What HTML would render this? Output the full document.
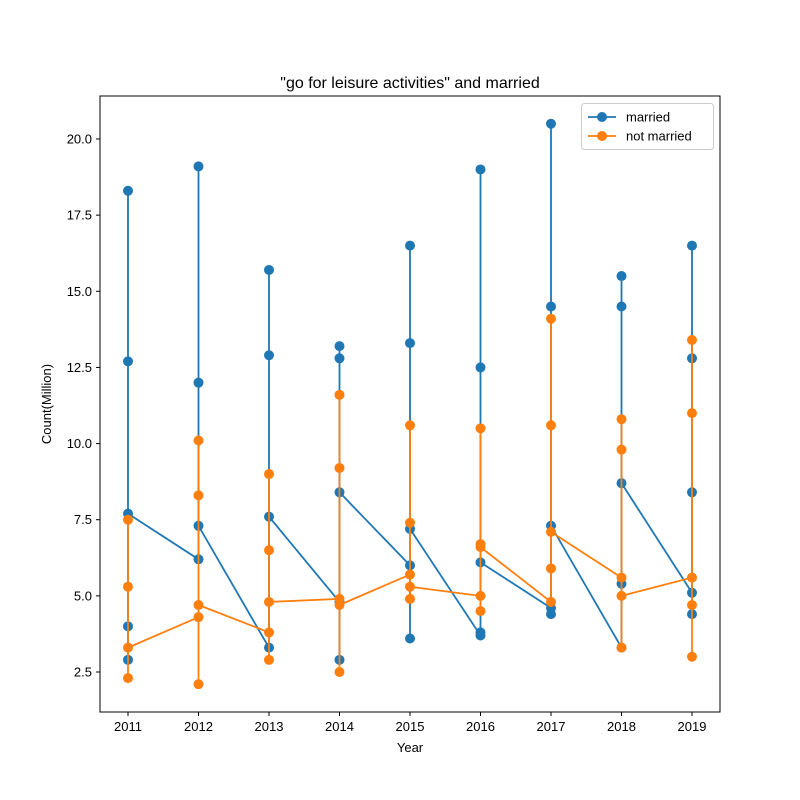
<!DOCTYPE html>
<html><head><meta charset="utf-8"><style>body{margin:0;background:#fff}svg{display:block}text{font-family:"Liberation Sans","DejaVu Sans",sans-serif;fill:#000}</style></head>
<body>
<svg id="chart" width="800" height="800"></svg>
<script>
const marriedYears=[2011,2011,2011,2011,2011,2012,2012,2012,2012,2013,2013,2013,2013,2014,2014,2014,2014,2014,2015,2015,2015,2015,2015,2016,2016,2016,2016,2016,2017,2017,2017,2017,2017,2018,2018,2018,2018,2018,2019,2019,2019,2019,2019];
const marriedValues=[2.9,4.0,18.3,12.7,7.7, 6.2,19.1,12.0,7.3, 3.3,15.7,12.9,7.6, 4.8,2.9,13.2,12.8,8.4, 6.0,3.6,16.5,13.3,7.2, 3.7,3.8,19.0,12.5,6.1, 4.6,4.4,20.5,14.5,7.3, 3.3,5.4,15.5,14.5,8.7, 5.1,4.4,16.5,12.8,8.4];
const notMarriedYears=[2011,2011,2011,2011,2012,2012,2012,2012,2012,2013,2013,2013,2013,2013,2014,2014,2014,2014,2014,2015,2015,2015,2015,2015,2016,2016,2016,2016,2016,2017,2017,2017,2017,2017,2018,2018,2018,2018,2018,2019,2019,2019,2019,2019];
const notMarriedValues=[7.5,5.3,2.3,3.3, 4.3,10.1,8.3,2.1,4.7, 3.8,2.9,9.0,6.5,4.8, 4.9,11.6,9.2,2.5,4.7, 5.7,10.6,7.4,4.9,5.3, 5.0,4.5,10.5,6.7,6.6, 4.8,14.1,10.6,5.9,7.1, 5.6,3.3,10.8,9.8,5.0, 5.6,13.4,11.0,4.7,3.0];
const xTicks=[2011,2012,2013,2014,2015,2016,2017,2018,2019];
const yTicks=[2.5,5.0,7.5,10.0,12.5,15.0,17.5,20.0];

const NS="http://www.w3.org/2000/svg";
const svg=document.getElementById('chart');
const L=100,R=720,T=96,B=712;
const x=v=>128+(v-2011)*70.5;
const y=v=>672-(v-2.5)*30.457;
function mk(tag,attrs,parent){const e=document.createElementNS(NS,tag);for(const k in attrs)e.setAttribute(k,attrs[k]);(parent||svg).appendChild(e);return e;}

const title=mk('text',{x:410,y:88,'text-anchor':'middle','font-size':16});
title.textContent='"go for leisure activities" and married';



const frame=mk('rect',{x:L,y:T,width:R-L,height:B-T,fill:'none',stroke:'#000','stroke-width':1});



xTicks.forEach(t=>{
  mk('line',{x1:x(t),x2:x(t),y1:B,y2:B+4,stroke:'#000'});
  const tx=mk('text',{x:x(t),y:B+19,'text-anchor':'middle','font-size':13});
  tx.textContent=t;
  
  
});
yTicks.forEach(t=>{
  mk('line',{x1:L-4,x2:L,y1:y(t),y2:y(t),stroke:'#000'});
  const tx=mk('text',{x:L-8,y:y(t)+4.5,'text-anchor':'end','font-size':13});
  tx.textContent=t.toFixed(1);
  
  
});
const xl=mk('text',{x:410,y:752,'text-anchor':'middle','font-size':13});
xl.textContent='Year';


const yl=mk('text',{x:51,y:404,'text-anchor':'middle','font-size':13,transform:'rotate(-90 51 404)'});
yl.textContent='Count(Million)';



function series(xs,vs,color,name){
  const g=mk('g',{});
  
  
  const pts=xs.map((a,i)=>x(a)+','+y(vs[i])).join(' ');
  mk('polyline',{points:pts,fill:'none',stroke:color,'stroke-width':1.8},g);
  xs.forEach((a,i)=>{
    const c=mk('circle',{cx:x(a),cy:y(vs[i]),r:5,fill:color},g);
    
    
  });
}
series(marriedYears,marriedValues,'#1f77b4','married');
series(notMarriedYears,notMarriedValues,'#ff7f0e','not-married');

const lg=mk('g',{});


mk('rect',{x:581.5,y:103.5,width:132,height:46,rx:3,fill:'#fff',stroke:'#ccc'},lg);
[['married','#1f77b4',117],['not married','#ff7f0e',136]].forEach(([n,c,yy])=>{
  const e=mk('g',{},lg);
  
  
  mk('line',{x1:588,x2:616,y1:yy,y2:yy,stroke:c,'stroke-width':1.8},e);
  mk('circle',{cx:602,cy:yy,r:5,fill:c},e);
  const t=mk('text',{x:626,y:yy+4.5,'font-size':13},e);
  t.textContent=n;
});
</script>
</body></html>
